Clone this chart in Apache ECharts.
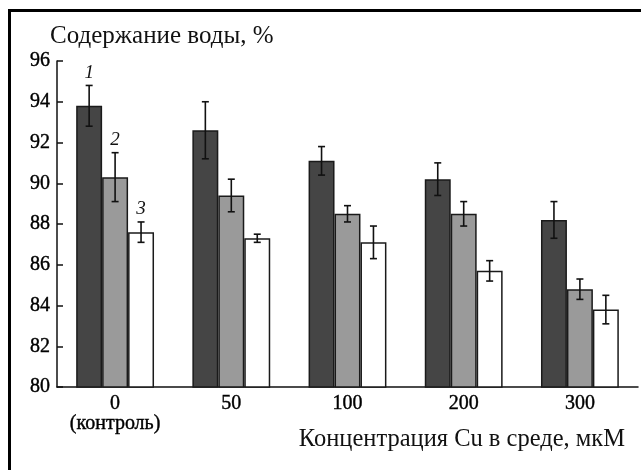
<!DOCTYPE html>
<html><head><meta charset="utf-8">
<script src="https://cdn.jsdelivr.net/npm/echarts@6/dist/echarts.min.js"></script>
<style>html,body{margin:0;padding:0;background:#fff}#c{width:641px;height:470px}</style>
</head><body><div id="c"></div>
<script>
const categories = ['0\n(контроль)', '50', '100', '200', '300'];
const series1 = [93.8, 92.6, 91.1, 90.2, 88.2];
const series2 = [90.3, 89.4, 88.5, 88.5, 84.8];
const series3 = [87.6, 87.3, 87.1, 85.7, 83.8];
const err1 = [1.0, 1.4, 0.7, 0.8, 0.9];
const err2 = [1.2, 0.8, 0.4, 0.6, 0.5];
const err3 = [0.5, 0.2, 0.8, 0.5, 0.7];
const seriesLabels = ['1', '2', '3'];
const yTicks = [80, 82, 84, 86, 88, 90, 92, 94, 96];
const yTitle = 'Содержание воды, %';
const xTitle = 'Концентрация Cu в среде, мкМ';

const values = [series1, series2, series3];
const errs = [err1, err2, err3];
const fills = ['#454545', '#9a9a9a', '#ffffff'];
const GAP = 0.33;
const FONT = '"Liberation Serif", "DejaVu Serif", serif';

const chart = echarts.init(document.getElementById('c'), null, {renderer: 'canvas'});

const barSeries = values.map((v, i) => ({
  type: 'bar',
  data: v,
  barGap: '0%',
  barCategoryGap: (GAP * 100) + '%',
  itemStyle: {color: fills[i], borderColor: '#1a1a1a', borderWidth: 1.5},
  silent: true,
  z: 2
}));

const errSeries = values.map((v, i) => ({
  type: 'custom',
  z: 5,
  silent: true,
  data: v.map((val, j) => [j, val, errs[i][j]]),
  encode: {x: 0, y: [1]},
  renderItem: function (params, api) {
    const j = api.value(0), val = api.value(1), e = api.value(2);
    const band = api.size([1, 0])[0];
    const bw = band * (1 - GAP) / 3;
    const c = api.coord([j, val]);
    const x = c[0] + (i - 1) * bw;
    const yt = api.coord([j, val + e])[1];
    const yb = api.coord([j, val - e])[1];
    const cap = 3.5;
    const st = {stroke: '#111', lineWidth: 1.6};
    const children = [
      {type: 'line', shape: {x1: x, y1: yt, x2: x, y2: yb}, style: st},
      {type: 'line', shape: {x1: x - cap, y1: yt, x2: x + cap, y2: yt}, style: st},
      {type: 'line', shape: {x1: x - cap, y1: yb, x2: x + cap, y2: yb}, style: st}
    ];
    if (j === 0) {
      children.push({type: 'text', style: {text: seriesLabels[i], x: x, y: yt - 3,
        align: 'center', verticalAlign: 'bottom', fill: '#111',
        font: 'italic 19px ' + FONT}});
    }
    return {type: 'group', children: children};
  }
}));

const tickText = {color: '#000', fontFamily: FONT, fontSize: 20, textBorderColor: '#000', textBorderWidth: 0.4};

chart.setOption({
  animation: false,
  backgroundColor: '#fff',
  grid: {left: 57, top: 61, width: 581, height: 326, containLabel: false},
  xAxis: {
    type: 'category',
    data: categories,
    axisLine: {lineStyle: {color: '#111', width: 1.5}},
    axisTick: {show: false},
    axisLabel: Object.assign({interval: 0, margin: 7, lineHeight: 20}, tickText)
  },
  yAxis: {
    type: 'value',
    min: yTicks[0], max: yTicks[yTicks.length - 1], interval: 2,
    splitLine: {show: false},
    axisLine: {show: true, lineStyle: {color: '#111', width: 1.5}},
    axisTick: {show: true, inside: true, length: 6, lineStyle: {color: '#111', width: 1.5}},
    axisLabel: Object.assign({margin: 7}, tickText)
  },
  graphic: [
    {type: 'rect', left: 8, top: 9, shape: {width: 633, height: 3}, style: {fill: '#000'}, silent: true},
    {type: 'rect', left: 8, top: 9, shape: {width: 3, height: 461}, style: {fill: '#000'}, silent: true},
    {type: 'text', left: 50, top: 24, style: {text: yTitle, fill: '#111', font: '25px ' + FONT}},
    {type: 'text', right: 16, top: 427, style: {text: xTitle, fill: '#111', font: '24.5px ' + FONT}}
  ],
  series: barSeries.concat(errSeries)
});
</script></body></html>
